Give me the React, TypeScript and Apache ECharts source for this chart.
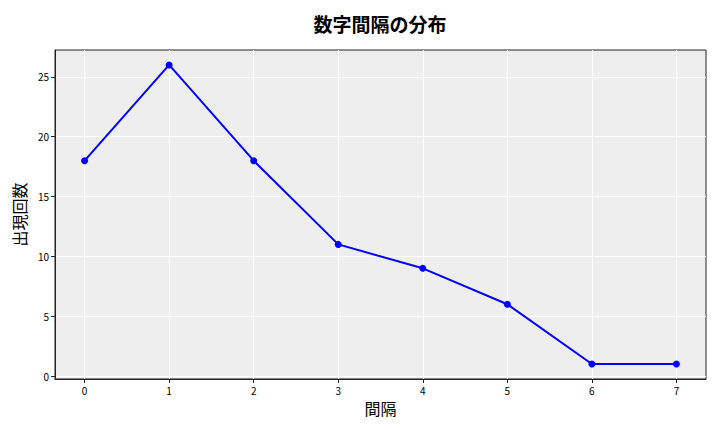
import React, { useEffect, useRef } from 'react';
import * as echarts from 'echarts';

const gaps = [0, 1, 2, 3, 4, 5, 6, 7];
const counts = [18, 26, 18, 11, 9, 6, 1, 1];
const xTicks = [0, 1, 2, 3, 4, 5, 6, 7];
const yTicks = [0, 5, 10, 15, 20, 25];

const FONT = '"Noto Sans CJK JP", "DejaVu Sans", sans-serif';

export default function App() {
  const chartRef = useRef<HTMLDivElement>(null);

  useEffect(() => {
    if (!chartRef.current) return;
    const chart = echarts.init(chartRef.current, undefined, { renderer: 'svg' });

    chart.setOption({
      animation: false,
      textStyle: { fontFamily: FONT },
      title: {
        text: '数字間隔の分布',
        left: 375,
        top: 9,
        textAlign: 'center',
        textStyle: { fontSize: 19, fontWeight: 'bold', color: '#000', fontFamily: FONT },
      },
      grid: {
        left: 55,
        right: 14,
        top: 50,
        bottom: 53,
        show: true,
        backgroundColor: '#eeeeee',
        borderColor: '#222',
        borderWidth: 1,
      },
      xAxis: {
        type: 'value',
        min: -0.35,
        max: 7.35,
        name: '間隔',
        nameLocation: 'middle',
        nameGap: 20,
        nameTextStyle: { fontSize: 16, color: '#000', fontFamily: FONT },
        axisLine: { show: true, onZero: false, lineStyle: { color: '#222' } },
        axisTick: { show: true, length: 4, customValues: xTicks, lineStyle: { color: '#222' } },
        axisLabel: { customValues: xTicks, fontSize: 10, color: '#000', margin: 6 },
        splitLine: { show: true, lineStyle: { color: '#ffffff', width: 1 } },
      },
      yAxis: {
        type: 'value',
        min: -0.25,
        max: 27.25,
        name: '出現回数',
        nameLocation: 'middle',
        nameGap: 22,
        nameTextStyle: { fontSize: 16, color: '#000', fontFamily: FONT },
        axisLine: { show: true, onZero: false, lineStyle: { color: '#222' } },
        axisTick: { show: true, length: 4, customValues: yTicks, lineStyle: { color: '#222' } },
        axisLabel: { customValues: yTicks, fontSize: 10, color: '#000', margin: 6 },
        splitLine: { show: true, lineStyle: { color: '#ffffff', width: 1 } },
      },
      series: [
        {
          type: 'line',
          data: gaps.map((g, i) => [g, counts[i]]),
          symbol: 'circle',
          symbolSize: 7,
          lineStyle: { color: '#0000ff', width: 2 },
          itemStyle: { color: '#0000ff' },
        },
      ],
    });

    return () => {
      chart.dispose();
    };
  }, []);

  return <div ref={chartRef} style={{ width: 720, height: 432, margin: -8 }} />;
}
